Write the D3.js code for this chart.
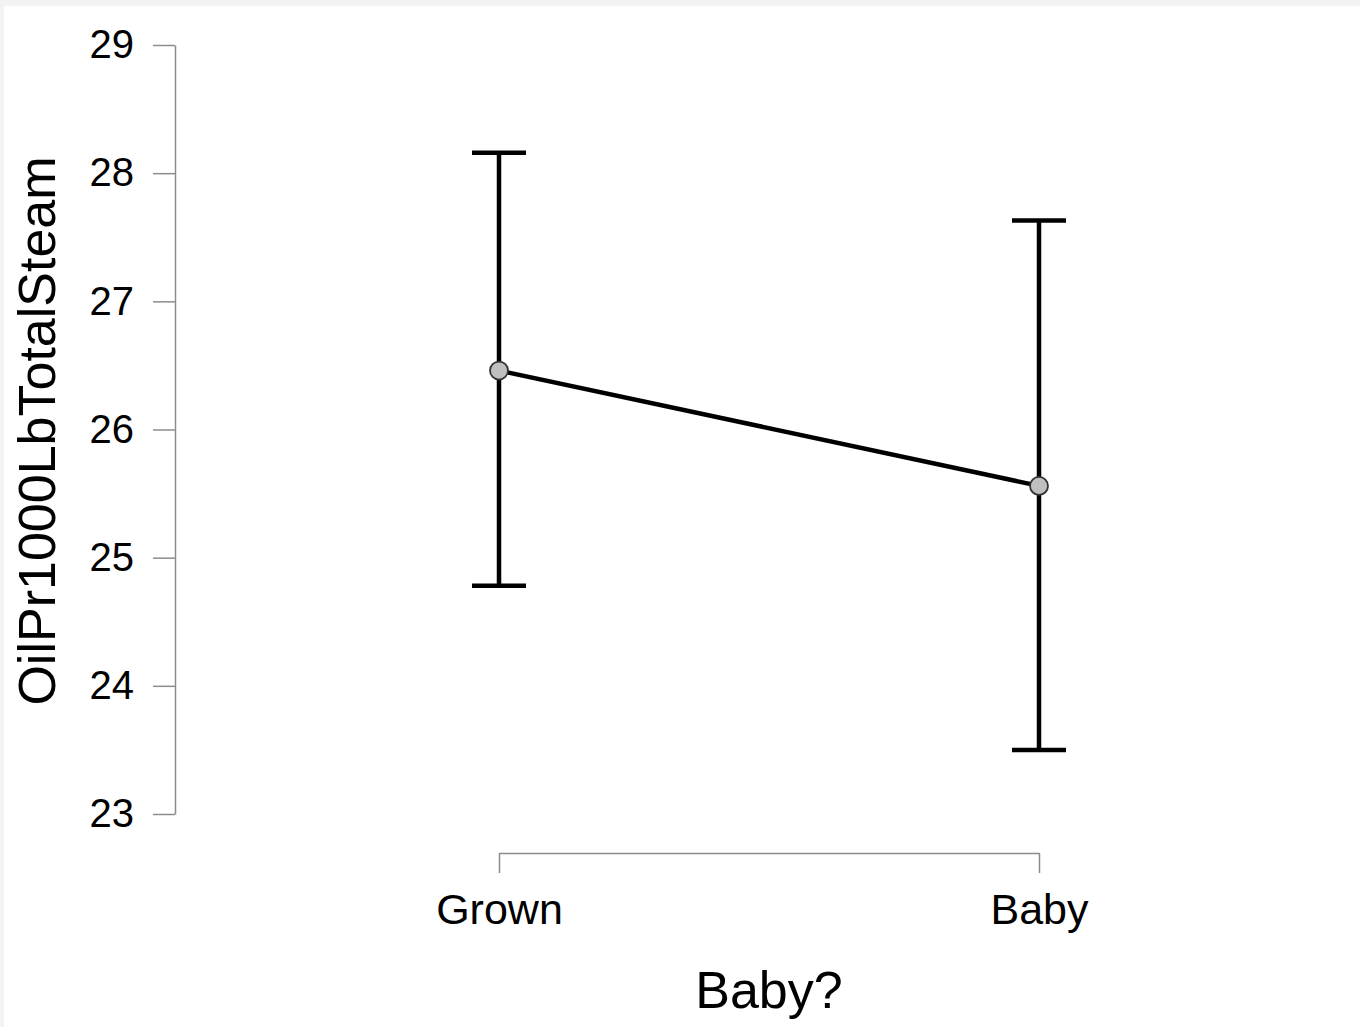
<!DOCTYPE html>
<html>
<head>
<meta charset="utf-8">
<script src="https://cdn.jsdelivr.net/npm/d3@7"></script>
<style>
  html, body { margin: 0; padding: 0; background: #f3f3f3; }
  svg { display: block; }
  text { font-family: "Liberation Sans", Arial, sans-serif; fill: #000; }
</style>
</head>
<body>
<script>
// Group means with their confidence interval bounds
const categories = ["Grown", "Baby"];
const means = [26.46, 25.56];
const lower = [24.78, 23.50];
const upper = [28.16, 27.63];
const yTicks = [23, 24, 25, 26, 27, 28, 29];
const xTitle = "Baby?";
const yTitle = "OilPr1000LbTotalSteam";

const W = 1360, H = 1027;
const svg = d3.select("body").append("svg").attr("width", W).attr("height", H);

// white plotting canvas over a faint grey frame
svg.append("rect").attr("x", 4).attr("y", 6).attr("width", W - 4).attr("height", H - 6).attr("fill", "#fff");

const y = d3.scaleLinear().domain([23, 29]).range([814, 45]);
const x = d3.scalePoint().domain(categories).range([499, 1039]);

// y axis
const yAxis = svg.append("g").attr("transform", "translate(175,0)")
  .call(d3.axisLeft(y).tickValues(yTicks).tickFormat(d3.format("d"))
    .tickSize(22).tickPadding(19).tickSizeOuter(0));
yAxis.select(".domain").attr("stroke", "#8c8c8c").attr("stroke-width", 1.5);
yAxis.selectAll(".tick line").attr("stroke", "#8c8c8c").attr("stroke-width", 1.5);
yAxis.selectAll(".tick text").attr("font-size", 40).attr("font-family", "Liberation Sans, Arial, sans-serif").attr("fill", "#000");

// x axis
const xAxis = svg.append("g").attr("transform", "translate(0,853)")
  .call(d3.axisBottom(x).tickSize(20).tickPadding(20).tickSizeOuter(0));
xAxis.select(".domain").attr("stroke", "#8c8c8c").attr("stroke-width", 1.5);
xAxis.selectAll(".tick line").attr("stroke", "#8c8c8c").attr("stroke-width", 1.5);
xAxis.selectAll(".tick text").attr("font-size", 43).attr("font-family", "Liberation Sans, Arial, sans-serif").attr("fill", "#000");

// axis titles
svg.append("text").attr("x", 769).attr("y", 1008).attr("text-anchor", "middle")
  .attr("font-size", 52).text(xTitle);
svg.append("text").attr("transform", "translate(55,431) rotate(-90)").attr("text-anchor", "middle")
  .attr("font-size", 52).text(yTitle);

const rows = categories.map((c, i) => ({ c, m: means[i], lo: lower[i], hi: upper[i] }));
const cap = 27;

// error bars
const eb = svg.append("g").attr("stroke", "#000").attr("stroke-width", 4.5).attr("fill", "none");
rows.forEach(d => {
  eb.append("line").attr("x1", x(d.c)).attr("x2", x(d.c)).attr("y1", y(d.lo)).attr("y2", y(d.hi));
  eb.append("line").attr("x1", x(d.c) - cap).attr("x2", x(d.c) + cap).attr("y1", y(d.hi)).attr("y2", y(d.hi));
  eb.append("line").attr("x1", x(d.c) - cap).attr("x2", x(d.c) + cap).attr("y1", y(d.lo)).attr("y2", y(d.lo));
});

// line joining the means
svg.append("path").datum(rows)
  .attr("d", d3.line().x(d => x(d.c)).y(d => y(d.m)))
  .attr("stroke", "#000").attr("stroke-width", 4.5).attr("fill", "none");

// mean points
svg.selectAll("circle.pt").data(rows).enter().append("circle")
  .attr("class", "pt")
  .attr("cx", d => x(d.c)).attr("cy", d => y(d.m)).attr("r", 9)
  .attr("fill", "#bfbfbf").attr("stroke", "#333").attr("stroke-width", 1.8);
</script>
</body>
</html>
